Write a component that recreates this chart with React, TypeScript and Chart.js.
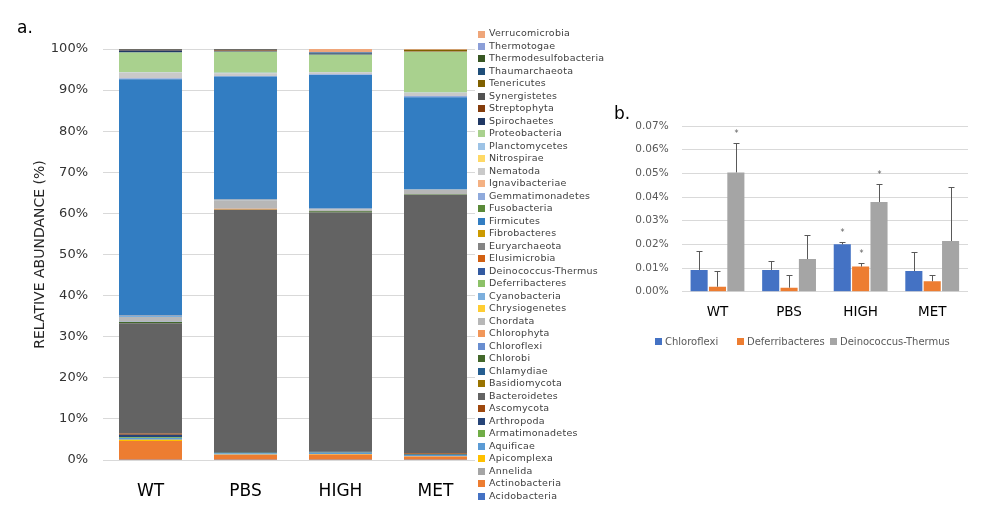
import React, { useEffect, useRef } from "react";
import { Chart, registerables } from "chart.js";

Chart.register(...registerables);

const FONT = "'DejaVu Sans', sans-serif";

// ---------- Panel a data ----------
const groups = ["WT", "PBS", "HIGH", "MET"];

const phyla = [
  "Acidobacteria", "Actinobacteria", "Annelida", "Apicomplexa", "Aquificae",
  "Armatimonadetes", "Arthropoda", "Ascomycota", "Bacteroidetes", "Basidiomycota",
  "Chlamydiae", "Chlorobi", "Chloroflexi", "Chlorophyta", "Chordata",
  "Chrysiogenetes", "Cyanobacteria", "Deferribacteres", "Deinococcus-Thermus", "Elusimicrobia",
  "Euryarchaeota", "Fibrobacteres", "Firmicutes", "Fusobacteria", "Gemmatimonadetes",
  "Ignavibacteriae", "Nematoda", "Nitrospirae", "Planctomycetes", "Proteobacteria",
  "Spirochaetes", "Streptophyta", "Synergistetes", "Tenericutes", "Thaumarchaeota",
  "Thermodesulfobacteria", "Thermotogae", "Verrucomicrobia",
];

const phylumColors = [
  "#4472C4", "#ED7D31", "#A5A5A5", "#FFC000", "#5B9BD5",
  "#70AD47", "#264478", "#9E480E", "#636363", "#997300",
  "#255E91", "#43682B", "#698ED0", "#F1975A", "#B7B7B7",
  "#FFCD33", "#7CAFDD", "#8CC168", "#335AA1", "#D26012",
  "#848484", "#CC9A00", "#327DC2", "#5A8A39", "#8FAADC",
  "#F4B183", "#C9C9C9", "#FFD966", "#9DC3E6", "#A9D18E",
  "#203864", "#843C0C", "#525252", "#7F6000", "#1F4E79",
  "#385723", "#8C9FD8", "#EFA67A",
];

const abundanceWT = [
  0.05, 4.6, 0.0, 0.3, 0.4, 0.2, 0.6, 0.3, 26.85, 0.0,
  0.0, 0.3, 0.0092, 0.0, 1.2, 0.0, 0.3, 0.0021, 0.0504, 0.0,
  0.1, 0.0, 57.4, 0.0, 0.2, 0.0, 1.4, 0.0, 0.1, 4.8,
  0.5, 0.1, 0.2, 0.04, 0.0, 0.0, 0.0, 0.0,
];
const abundancePBS = [
  0.05, 1.2, 0.0, 0.1, 0.3, 0.1, 0.2, 0.0, 58.85, 0.0,
  0.0, 0.1, 0.0092, 0.2, 2.1, 0.0, 0.1, 0.0017, 0.0138, 0.0,
  0.1, 0.0, 29.9, 0.0, 0.1, 0.0, 0.7, 0.0, 0.1, 5.1,
  0.1, 0.2, 0.3, 0.05, 0.0, 0.0, 0.0, 0.03,
];
const abundanceHIGH = [
  0.05, 1.3, 0.0, 0.1, 0.3, 0.05, 0.2, 0.0, 58.2, 0.0,
  0.0, 0.3, 0.02, 0.0, 0.5, 0.0, 0.1, 0.0106, 0.0379, 0.0,
  0.1, 0.0, 32.4, 0.0, 0.2, 0.0, 0.45, 0.0, 0.1, 4.2,
  0.13, 0.0, 0.1, 0.0, 0.3, 0.0, 0.1, 0.75,
];
const abundanceMET = [
  0.05, 0.8, 0.0, 0.05, 0.3, 0.05, 0.2, 0.2, 62.85, 0.0,
  0.0, 0.1, 0.0088, 0.0, 1.1, 0.0, 0.1, 0.0044, 0.0214, 0.0,
  0.1, 0.0, 22.3, 0.0, 0.3, 0.0, 0.8, 0.0, 0.1, 9.9,
  0.0, 0.1, 0.0, 0.4, 0.0, 0.0, 0.0, 0.15,
];

// ---------- Panel b data ----------
const seriesB = ["Chloroflexi", "Deferribacteres", "Deinococcus-Thermus"];
const colorsB = ["#4472C4", "#ED7D31", "#A5A5A5"];
const chloroflexi = [0.0092, 0.0092, 0.02, 0.0087];
const deferribacteres = [0.0021, 0.0017, 0.0106, 0.0044];
const deinococcus = [0.0504, 0.0138, 0.0379, 0.0214];
const chloroflexiErr = [0.008, 0.0039, 0.0011, 0.0081];
const deferribacteresErr = [0.0066, 0.0053, 0.0014, 0.0026];
const deinococcusErr = [0.0123, 0.01, 0.0076, 0.0227];
const chloroflexiStars = ["", "", "*", ""];
const deferribacteresStars = ["", "", "*", ""];
const deinococcusStars = ["*", "", "*", ""];

export default function App() {
  const refA = useRef<HTMLCanvasElement>(null);
  const refB = useRef<HTMLCanvasElement>(null);

  useEffect(() => {
    const byGroup = [abundanceWT, abundancePBS, abundanceHIGH, abundanceMET];

    const legendA = {
      id: "legendA",
      afterDraw(chart: any) {
        const ctx = chart.ctx;
        ctx.save();
        ctx.fillStyle = "#ffffff";
        ctx.fillRect(475, 0, 145, 509);
        ctx.font = `9.5px ${FONT}`;
        try { ctx.letterSpacing = "0.25px"; } catch (e) {}
        ctx.textBaseline = "middle";
        ctx.textAlign = "left";
        const n = phyla.length;
        for (let k = 0; k < n; k++) {
          const idx = n - 1 - k;
          const y = 34 + k * 12.49;
          ctx.fillStyle = phylumColors[idx];
          ctx.fillRect(478, Math.round(y - 3.5), 7, 7);
          ctx.fillStyle = "#404040";
          ctx.fillText(phyla[idx], 489, y);
        }
        try { ctx.letterSpacing = "0px"; } catch (e) {}
        ctx.fillStyle = "#000";
        ctx.font = `17px ${FONT}`;
        ctx.textBaseline = "alphabetic";
        ctx.fillText("a.", 17, 33);
        ctx.restore();
      },
    };

    const chartA = new Chart(refA.current!, {
      type: "bar",
      data: {
        labels: groups,
        datasets: phyla.map((name, i) => ({
          label: name,
          data: byGroup.map((g) => g[i]),
          backgroundColor: phylumColors[i],
          borderWidth: 0,
          categoryPercentage: 0.663,
          barPercentage: 1,
        })),
      },
      options: {
        responsive: false,
        animation: false,
        devicePixelRatio: 1,
        events: [],
        layout: { padding: { top: 49, right: 137, left: 0, bottom: 0 } },
        plugins: { legend: { display: false }, tooltip: { enabled: false } },
        scales: {
          x: {
            stacked: true,
            grid: { display: false, drawTicks: false },
            border: { display: false },
            ticks: { color: "#000", font: { family: FONT, size: 17 }, padding: 21 },
            afterFit(scale: any) {
              scale.height = 49;
            },
          },
          y: {
            stacked: true,
            min: 0,
            max: 100,
            grid: { color: "#D9D9D9", drawTicks: false },
            border: { display: false },
            ticks: {
              stepSize: 10,
              color: "#333",
              padding: 15,
              font: { family: FONT, size: 13 },
              callback: (v: any) => v + "%",
            },
            title: {
              display: true,
              text: "RELATIVE ABUNDANCE (%)",
              color: "#262626",
              font: { family: FONT, size: 14 },
              padding: { top: 31.6, bottom: 0 },
            },
            afterFit(scale: any) {
              scale.width = 103;
            },
          },
        },
      },
      plugins: [legendA],
    } as any);

    const valuesB = [chloroflexi, deferribacteres, deinococcus];
    const errorsB = [chloroflexiErr, deferribacteresErr, deinococcusErr];
    const starsB = [chloroflexiStars, deferribacteresStars, deinococcusStars];

    const errorBars = {
      id: "errorBars",
      afterDatasetsDraw(chart: any) {
        const ctx = chart.ctx;
        const yScale = chart.scales.y;
        ctx.save();
        ctx.strokeStyle = "#595959";
        ctx.lineWidth = 1;
        chart.data.datasets.forEach((ds: any, i: number) => {
          const meta = chart.getDatasetMeta(i);
          meta.data.forEach((el: any, j: number) => {
            const top = yScale.getPixelForValue(ds.data[j] + errorsB[i][j]);
            const x = Math.round(el.x) + 0.5;
            ctx.beginPath();
            ctx.moveTo(x, el.y);
            ctx.lineTo(x, Math.round(top) + 0.5);
            ctx.moveTo(x - 3, Math.round(top) + 0.5);
            ctx.lineTo(x + 3, Math.round(top) + 0.5);
            ctx.stroke();
            const s = starsB[i][j];
            if (s) {
              ctx.fillStyle = "#595959";
              ctx.font = `8px ${FONT}`;
              ctx.textAlign = "center";
              ctx.textBaseline = "middle";
              ctx.fillText(s, x, top - 9);
            }
          });
        });
        ctx.restore();
      },
      afterDraw(chart: any) {
        const ctx = chart.ctx;
        ctx.save();
        ctx.font = `10px ${FONT}`;
        ctx.textBaseline = "middle";
        ctx.textAlign = "left";
        const markerX = [45, 127, 220];
        seriesB.forEach((name, i) => {
          ctx.fillStyle = colorsB[i];
          ctx.fillRect(markerX[i], 248, 7, 7);
          ctx.fillStyle = "#595959";
          ctx.fillText(name, markerX[i] + 10, 252);
        });
        ctx.fillStyle = "#000";
        ctx.font = `17px ${FONT}`;
        ctx.textBaseline = "alphabetic";
        ctx.fillText("b.", 4, 29);
        ctx.restore();
      },
    };

    const chartB = new Chart(refB.current!, {
      type: "bar",
      data: {
        labels: groups,
        datasets: seriesB.map((name, i) => ({
          label: name,
          data: valuesB[i],
          backgroundColor: colorsB[i],
          borderWidth: 0,
          categoryPercentage: 0.77,
          barPercentage: 0.93,
        })),
      },
      options: {
        responsive: false,
        animation: false,
        devicePixelRatio: 1,
        events: [],
        layout: { padding: { top: 36, right: 17, left: 0, bottom: 0 } },
        plugins: { legend: { display: false }, tooltip: { enabled: false } },
        scales: {
          x: {
            grid: { display: false, drawTicks: false },
            border: { display: false },
            ticks: { color: "#000", font: { family: FONT, size: 13.5 }, padding: 13 },
            afterFit(scale: any) {
              scale.height = 68.3;
            },
          },
          y: {
            min: 0,
            max: 0.07,
            grid: { color: "#D9D9D9", drawTicks: false },
            border: { display: false },
            ticks: {
              stepSize: 0.01,
              color: "#595959",
              padding: 13,
              font: { family: FONT, size: 10.5 },
              callback: (v: any) => Number(v).toFixed(2) + "%",
            },
            afterFit(scale: any) {
              scale.width = 71.7;
            },
          },
        },
      },
      plugins: [errorBars],
    } as any);

    return () => {
      chartA.destroy();
      chartB.destroy();
    };
  }, []);

  return (
    <div style={{ position: "absolute", left: 0, top: 0, width: 985, height: 509, background: "#fff" }}>
      <canvas
        ref={refA}
        width={620}
        height={509}
        style={{ position: "absolute", left: 0, top: 0, width: 620, height: 509 }}
      />
      <canvas
        ref={refB}
        width={375}
        height={270}
        style={{ position: "absolute", left: 610, top: 90, width: 375, height: 270 }}
      />
    </div>
  );
}
